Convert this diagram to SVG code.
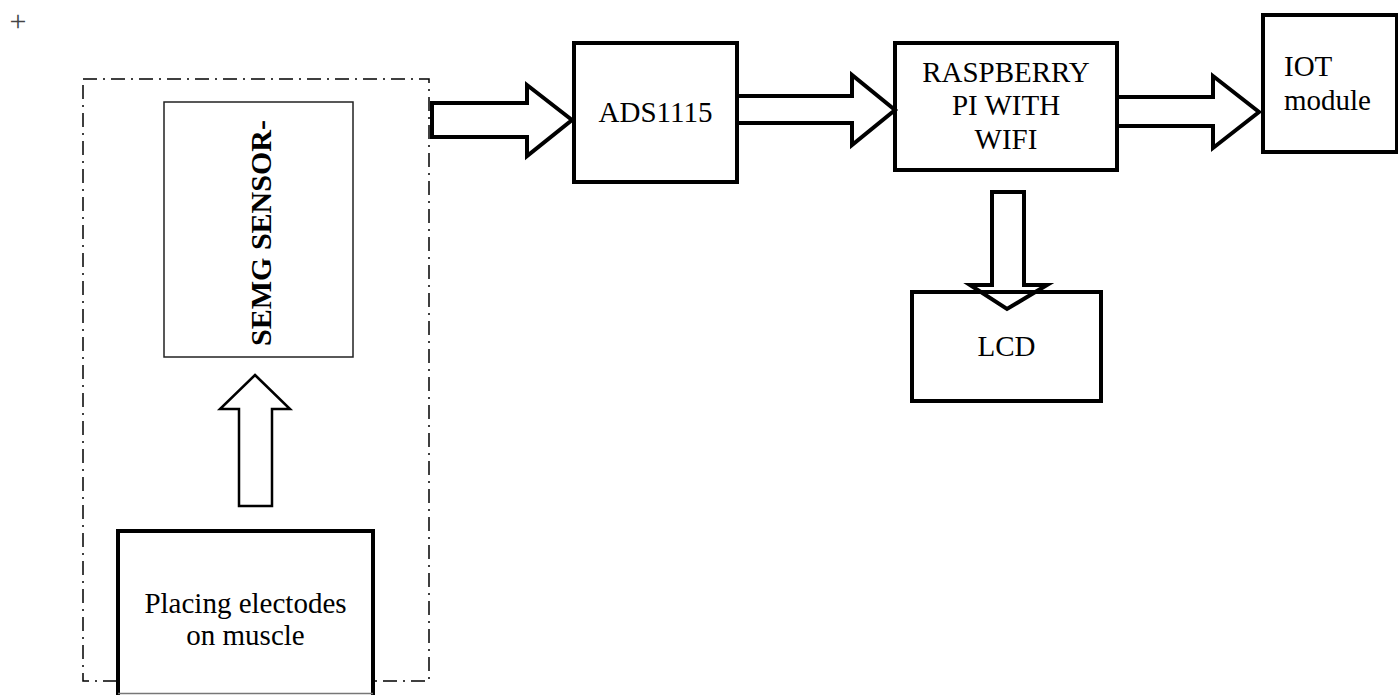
<svg xmlns="http://www.w3.org/2000/svg" width="1398" height="695" viewBox="0 0 1398 695">
<style>
.box{fill:#fff;stroke:#000;stroke-width:4}
.arr{fill:#fff;stroke:#000;stroke-width:4;stroke-linejoin:miter;stroke-miterlimit:10}
.t{font-family:"Liberation Serif","Times New Roman",serif;font-size:29px;fill:#000}
.plus{font-family:"Liberation Serif","Times New Roman",serif;font-size:30px;fill:#444}
</style>
<rect width="1398" height="695" fill="#fff"/>
<text class="plus" x="18" y="31" text-anchor="middle">+</text>
<g id="sensor-group">
<rect x="83" y="79" width="346" height="602" fill="none" stroke="#000" stroke-width="1.5" stroke-dasharray="14 6 2 6"/>
</g>
<g id="semg">
<rect x="164" y="102" width="189" height="255" fill="#fff" stroke="#222" stroke-width="1.5"/>
<text class="t" transform="translate(271,233) rotate(-90)" text-anchor="middle" style="font-weight:bold;font-size:30px">SEMG SENSOR-</text>
</g>
<g id="electrodes">
<path d="M118,697 V531 H373 V697" class="box"/>
<line x1="118" y1="693.5" x2="373" y2="693.5" stroke="#777" stroke-width="1.5"/>
<text class="t" x="245.5" y="613" text-anchor="middle">Placing electodes</text>
<text class="t" x="245.5" y="645" text-anchor="middle">on muscle</text>
</g>
<g id="ads1115">
<rect class="box" x="574" y="43" width="163" height="139"/>
<text class="t" x="655.5" y="122" text-anchor="middle">ADS1115</text>
</g>
<g id="raspberry">
<rect class="box" x="895" y="43" width="222" height="127"/>
<text class="t" x="1006" y="82" text-anchor="middle">RASPBERRY</text>
<text class="t" x="1006" y="115" text-anchor="middle">PI WITH</text>
<text class="t" x="1006" y="149" text-anchor="middle">WIFI</text>
</g>
<g id="iot">
<rect class="box" x="1263" y="15" width="134" height="137"/>
<text class="t" x="1284" y="76">IOT</text>
<text class="t" x="1284" y="110">module</text>
</g>
<g id="lcd">
<rect class="box" x="912" y="292" width="189" height="109"/>
<text class="t" x="1006.5" y="356" text-anchor="middle">LCD</text>
</g>
<g id="connectors">
<polygon class="arr" style="stroke-width:2.5" points="255,375 290,409 272,409 272,506 239,506 239,409 220,409"/>
<polygon class="arr" points="432,103 527,103 527,85 572,120 527,156 527,137 432,137"/>
<polygon class="arr" points="737,96 852,96 852,75 895,110 852,145 852,123 737,123"/>
<polygon class="arr" points="1117,97 1213,97 1213,76 1259,112 1213,148 1213,126 1117,126"/>
<polygon class="arr" points="992,192 1024,192 1024,285 1047,285 1007,309 970,285 992,285"/>
<line x1="910" y1="292" x2="1103" y2="292" stroke="#000" stroke-width="4"/>
</g>
</svg>
